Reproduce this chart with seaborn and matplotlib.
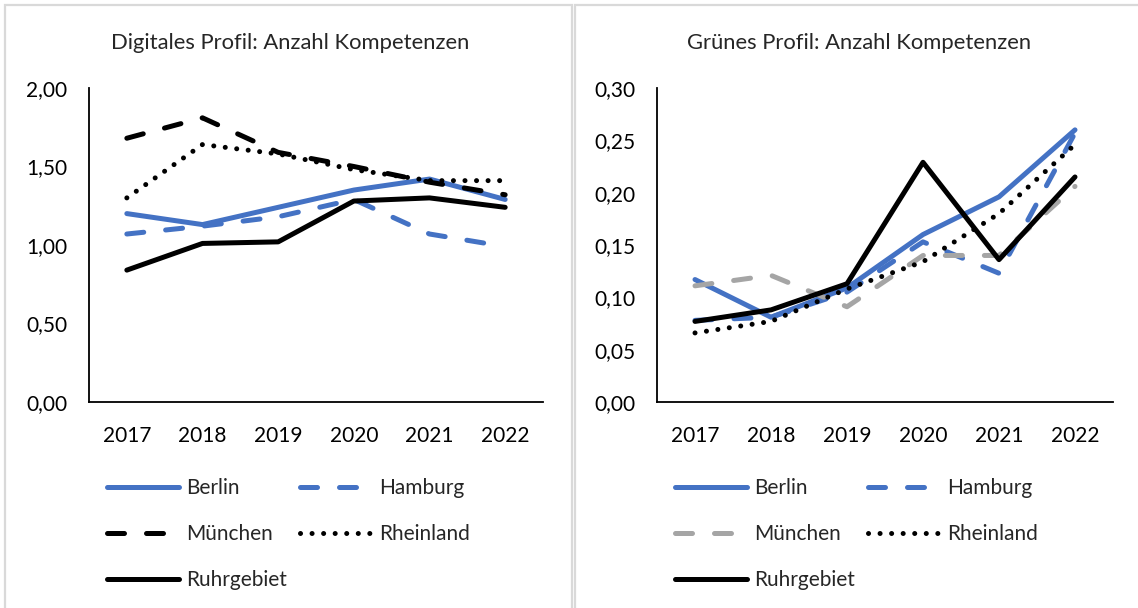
import matplotlib
matplotlib.use("Agg")
import matplotlib.pyplot as plt
from matplotlib.patches import Rectangle
from matplotlib.ticker import FuncFormatter
import seaborn as sns

years = [2017, 2018, 2019, 2020, 2021, 2022]
regions = ["Berlin", "Hamburg", "München", "Rheinland", "Ruhrgebiet"]

# Digitales Profil: mean number of competences
digital_berlin = [1.20, 1.13, 1.24, 1.35, 1.42, 1.29]
digital_hamburg = [1.07, 1.12, 1.18, 1.29, 1.07, 0.99]
digital_muenchen = [1.68, 1.81, 1.59, 1.50, 1.40, 1.32]
digital_rheinland = [1.30, 1.64, 1.58, 1.48, 1.41, 1.41]
digital_ruhr = [0.84, 1.01, 1.02, 1.28, 1.30, 1.24]

# Grünes Profil: mean number of competences
green_berlin = [0.117, 0.081, 0.109, 0.160, 0.196, 0.260]
green_hamburg = [0.078, 0.081, 0.105, 0.153, 0.123, 0.257]
green_muenchen = [0.111, 0.121, 0.091, 0.140, 0.140, 0.206]
green_rheinland = [0.066, 0.077, 0.108, 0.134, 0.180, 0.246]
green_ruhr = [0.077, 0.088, 0.113, 0.229, 0.136, 0.215]

digital_ticks = [0.0, 0.5, 1.0, 1.5, 2.0]
green_ticks = [0.0, 0.05, 0.10, 0.15, 0.20, 0.25, 0.30]

BLUE = "#4472C4"
GRAY = "#A5A5A5"
BLACK = "#000000"

sns.set_theme(style="white")
plt.rcParams["font.family"] = ["Lato", "DejaVu Sans"]

W, H = 1138, 608
FS = 15
fig = plt.figure(figsize=(W / 100, H / 100), dpi=100)
fig.patch.set_facecolor("white")

# chart-area frames
for x0, x1 in [(5, 572), (575, 1142)]:
    fig.patches.append(Rectangle((x0 / W, -0.02), (x1 - x0) / W, (H - 5) / H + 0.02,
                                 transform=fig.transFigure, fill=False,
                                 edgecolor="#d9d9d9", linewidth=1.6, zorder=0))

LW = 3.6
solid = dict(linestyle="-", solid_capstyle="round")
dash = dict(linestyle=(0, (3.4, 4.4)), dash_capstyle="round")
dot = dict(linestyle=(0, (0.01, 2.3)), dash_capstyle="round")


def fmt(v, _):
    return f"{v:.2f}".replace(".", ",")


def draw(px0, px1, title, title_x, series, ticks, ymax, legend_x):
    ax = fig.add_axes([px0 / W, (H - 402) / H, (px1 - px0) / W, 314 / H])
    handles = []
    for name, vals, color, style in series:
        sns.lineplot(x=years, y=vals, ax=ax, color=color, linewidth=LW,
                     label=name, legend=False, **style)
        handles.append(ax.lines[-1])
    ax.set_xlim(2016.5, 2022.5)
    ax.set_ylim(0, ymax)
    ax.set_xticks(years)
    ax.set_xticklabels([str(y) for y in years])
    ax.set_yticks(ticks)
    ax.yaxis.set_major_formatter(FuncFormatter(fmt))
    ax.tick_params(axis="both", length=0, labelsize=FS, colors="#000000")
    ax.tick_params(axis="y", pad=15.5)
    ax.tick_params(axis="x", pad=17)
    ax.set_xlabel("")
    ax.set_ylabel("")
    for side in ["top", "right"]:
        ax.spines[side].set_visible(False)
    for side in ["left", "bottom"]:
        ax.spines[side].set_color("#000000")
        ax.spines[side].set_linewidth(1.3)
    ax.set_facecolor("none")
    fig.text(title_x / W, (H - 43) / H, title, ha="center", va="center",
             fontsize=15.8)
    order = [0, 2, 4, 1, 3]
    fig.legend([handles[i] for i in order], [series[i][0] for i in order],
               loc="upper left", bbox_to_anchor=(legend_x / W, (H - 478) / H),
               ncol=2, frameon=False, fontsize=FS, handlelength=3.45,
               handletextpad=0.35, columnspacing=0.62, labelspacing=1.25,
               borderpad=0, borderaxespad=0)
    return ax


draw(89, 543, "Digitales Profil: Anzahl Kompetenzen", 290,
     [("Berlin", digital_berlin, BLUE, solid),
      ("Hamburg", digital_hamburg, BLUE, dash),
      ("München", digital_muenchen, BLACK, dash),
      ("Rheinland", digital_rheinland, BLACK, dot),
      ("Ruhrgebiet", digital_ruhr, BLACK, solid)],
     digital_ticks, 2.0, 107)

draw(657, 1113, "Grünes Profil: Anzahl Kompetenzen", 859,
     [("Berlin", green_berlin, BLUE, solid),
      ("Hamburg", green_hamburg, BLUE, dash),
      ("München", green_muenchen, GRAY, dash),
      ("Rheinland", green_rheinland, BLACK, dot),
      ("Ruhrgebiet", green_ruhr, BLACK, solid)],
     green_ticks, 0.30, 675)

fig.savefig("out.png", dpi=100, facecolor="white")
